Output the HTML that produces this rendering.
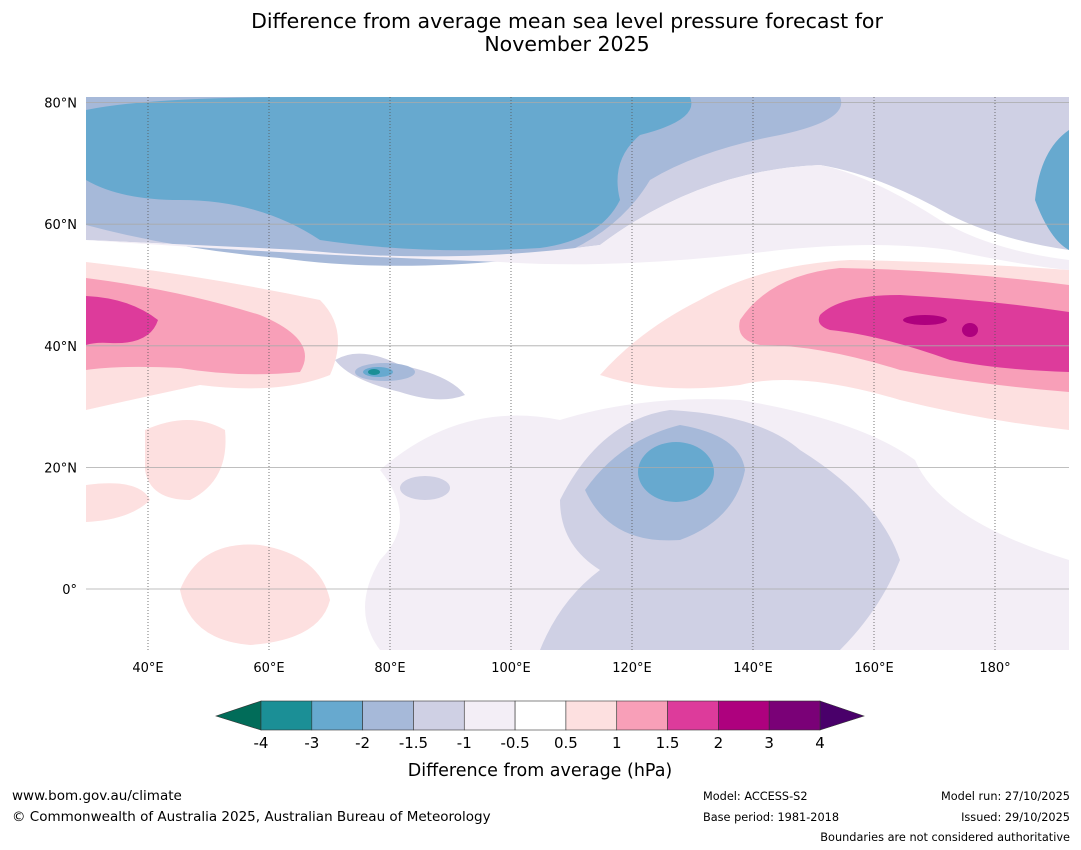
<!DOCTYPE html>
<html><head><meta charset="utf-8"><style>
body{margin:0;background:#fff;font-family:"DejaVu Sans","Liberation Sans",sans-serif;}
svg{display:block}
</style></head><body>
<svg width="1081" height="850" viewBox="0 0 1081 850" font-family="DejaVu Sans, Liberation Sans, sans-serif">
<text x="567" y="28" text-anchor="middle" font-size="20.5">Difference from average mean sea level pressure forecast for</text>
<text x="567" y="51" text-anchor="middle" font-size="20.5">November 2025</text>
<defs><clipPath id="mc"><rect x="86" y="97" width="983" height="553"/></clipPath></defs>
<g clip-path="url(#mc)">
<rect x="86" y="97" width="983" height="553" fill="#fff"/>
<path d="M86 97 H1069 V250 Q1000 240 950 215 Q880 175 820 165 Q700 170 600 245 Q450 265 300 250 Q200 245 86 240 Z" fill="#cfd0e4"/>
<path d="M86 97 H840 Q850 120 780 135 Q700 150 650 180 Q620 230 560 255 Q400 275 280 258 Q180 250 86 225 Z" fill="#a6b9d9"/>
<path d="M86 110 Q150 97 300 97 H690 Q700 120 640 135 Q610 160 620 200 Q600 240 540 248 Q420 255 320 240 Q260 200 180 200 Q120 200 86 180 Z" fill="#67a9cf"/>
<path d="M1069 130 Q1040 150 1035 200 Q1050 240 1069 250 Z" fill="#67a9cf"/>
<path d="M86 240 Q300 255 500 262 Q620 270 780 250 Q880 240 950 250 Q1020 265 1069 270 V260 Q990 250 940 220 Q870 175 820 165 Q700 170 600 245 Q450 265 300 250 Q200 245 86 240Z" fill="#f3eef6"/>
<path d="M86 262 Q200 275 320 300 Q350 330 330 375 Q280 395 200 385 Q130 400 86 410 Z" fill="#fde0e0"/>
<path d="M86 278 Q180 290 260 315 Q320 340 300 372 Q240 378 180 368 Q120 365 86 370 Z" fill="#f89fb8"/>
<path d="M86 296 Q130 298 158 320 Q150 345 110 343 Q95 342 86 345 Z" fill="#dd3b9b"/>
<path d="M600 375 Q640 330 700 300 Q760 265 850 260 Q960 262 1069 270 V430 Q980 420 900 400 Q800 370 740 385 Q660 395 600 375Z" fill="#fde0e0"/>
<path d="M740 320 Q770 275 840 268 Q950 270 1069 285 V392 Q980 385 900 370 Q820 345 760 345 Q735 340 740 320Z" fill="#f89fb8"/>
<path d="M820 315 Q840 295 900 295 Q990 300 1069 312 V372 Q1000 370 950 360 Q880 335 830 330 Q815 325 820 315Z" fill="#dd3b9b"/>
<ellipse cx="925" cy="320" rx="22" ry="5" fill="#ae017e"/><ellipse cx="970" cy="330" rx="8" ry="7" fill="#ae017e"/>
<path d="M145 430 Q190 410 225 430 Q230 480 190 500 Q150 500 145 470Z" fill="#fde0e0"/>
<path d="M86 485 Q140 478 150 500 Q130 520 86 522Z" fill="#fde0e0"/>
<path d="M180 590 Q200 540 260 545 Q320 555 330 600 Q320 640 250 645 Q190 640 180 590Z" fill="#fde0e0"/>
<path d="M380 470 Q460 400 560 420 Q640 395 740 400 Q860 420 915 460 Q940 520 1069 560 V650 H380 Q350 610 380 560 Q420 520 380 470Z" fill="#f3eef6"/>
<path d="M560 500 Q600 420 670 410 Q760 415 800 450 Q880 500 900 560 Q880 610 840 650 H540 Q560 600 600 570 Q560 545 560 500Z" fill="#cfd0e4"/>
<path d="M585 490 Q620 440 680 425 Q740 435 745 470 Q735 520 680 540 Q610 545 585 490Z" fill="#a6b9d9"/>
<ellipse cx="676" cy="472" rx="38" ry="30" fill="#67a9cf"/>
<ellipse cx="425" cy="488" rx="25" ry="12" fill="#cfd0e4"/>
<path d="M335 360 Q360 345 400 365 Q450 375 465 395 Q440 405 400 392 Q350 380 335 360Z" fill="#cfd0e4"/>
<ellipse cx="385" cy="372" rx="30" ry="9" fill="#a6b9d9"/>
<ellipse cx="378" cy="372" rx="15" ry="5" fill="#67a9cf"/>
<ellipse cx="374" cy="372" rx="6" ry="3" fill="#1b8f96"/>
<g id="grid"></g>
</g>
<g id="axes"></g>
<g id="cbar"></g>
<text x="540" y="776" text-anchor="middle" font-size="17.5">Difference from average (hPa)</text>
<text x="12" y="800" font-size="13.5">www.bom.gov.au/climate</text>
<text x="12" y="821" font-size="13.5">© Commonwealth of Australia 2025, Australian Bureau of Meteorology</text>
<text x="703" y="800" font-size="11.3">Model: ACCESS-S2</text>
<text x="703" y="821" font-size="11.3">Base period: 1981-2018</text>
<text x="1070" y="800" font-size="11.3" text-anchor="end">Model run: 27/10/2025</text>
<text x="1070" y="821" font-size="11.3" text-anchor="end">Issued: 29/10/2025</text>
<text x="1070" y="841" font-size="11.3" text-anchor="end">Boundaries are not considered authoritative</text>
</svg>
<script>
const lonTicks=[40,60,80,100,120,140,160,180];
const latTicks=[80,60,40,20,0];
const levels=[-4,-3,-2,-1.5,-1,-0.5,0.5,1,1.5,2,3,4];
const levelColors=["#1b8f96","#67a9cf","#a6b9d9","#cfd0e4","#f3eef6","#ffffff","#fde0e0","#f89fb8","#dd3b9b","#ae017e","#7a0177"];
const NS="http://www.w3.org/2000/svg";
const xLon=l=>87.5+(l-30)*6.05;
const yLat=l=>589-l*6.08;
function mk(t,a,p){const e=document.createElementNS(NS,t);for(const k in a)e.setAttribute(k,a[k]);p.appendChild(e);return e;}
const grid=document.getElementById('grid'),axes=document.getElementById('axes'),cb=document.getElementById('cbar');
lonTicks.forEach(l=>{const x=xLon(l);
 const ln=mk('line',{x1:x,x2:x,y1:97,y2:650,stroke:'#555','stroke-width':0.8,'stroke-dasharray':'1,2'},grid);
 
 
 const t=mk('text',{x:x,y:672,'text-anchor':'middle','font-size':13},axes);t.textContent=l===180?'180°':l+'°E';
 
 });
latTicks.forEach(l=>{const y=yLat(l);
 const ln=mk('line',{x1:86,x2:1069,y1:y,y2:y,stroke:'#aaa','stroke-width':0.8},grid);
 
 
 const t=mk('text',{x:77,y:y+5,'text-anchor':'end','font-size':13},axes);t.textContent=l===0?'0°':l+'°N';
 
 });
const x0=261,x1=820,w=(x1-x0)/levelColors.length;
mk('polygon',{points:`216,716 ${x0},701 ${x0},730`,fill:'#016c59',stroke:'#333','stroke-width':0.6},cb);
mk('polygon',{points:`864,716 ${x1},701 ${x1},730`,fill:'#49006a',stroke:'#333','stroke-width':0.6},cb);
levelColors.forEach((c,i)=>{const r=mk('rect',{x:x0+i*w,y:701,width:w,height:29,fill:c,stroke:'#333','stroke-width':0.6},cb);
 
 });
levels.forEach((v,i)=>{const t=mk('text',{x:x0+i*w,y:748,'text-anchor':'middle','font-size':15},cb);t.textContent=v;
 
 });
</script>
</body></html>
